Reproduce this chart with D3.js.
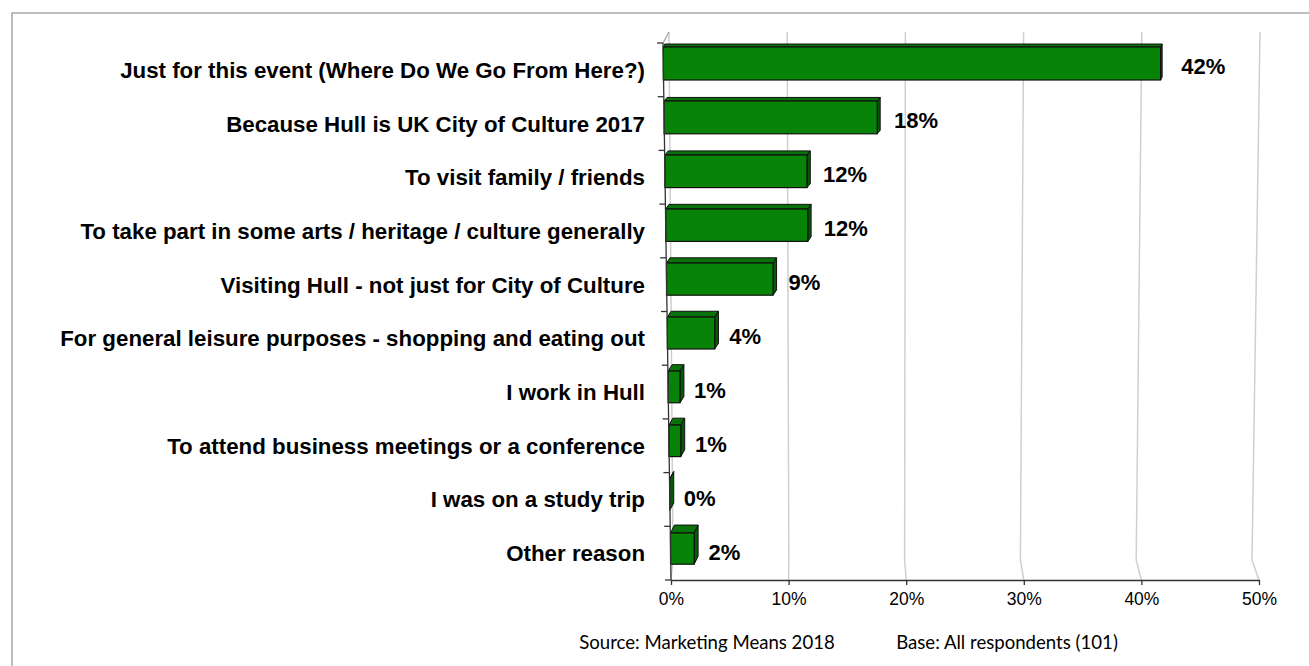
<!DOCTYPE html>
<html>
<head>
<meta charset="utf-8">
<script src="https://cdn.jsdelivr.net/npm/d3@7/dist/d3.min.js"></script>
<style>
html,body{margin:0;padding:0;background:#fff;}
svg{display:block;}
</style>
</head>
<body>
<svg id="chart" width="1309" height="666"></svg>
<script>
const categories = [
  "Just for this event (Where Do We Go From Here?)",
  "Because Hull is UK City of Culture 2017",
  "To visit family / friends",
  "To take part in some arts / heritage / culture generally",
  "Visiting Hull - not just for City of Culture",
  "For general leisure purposes - shopping and eating out",
  "I work in Hull",
  "To attend business meetings or a conference",
  "I was on a study trip",
  "Other reason"
];
const values = [42, 18, 12, 12, 9, 4, 1, 1, 0, 2];
const tickValues = [0, 10, 20, 30, 40, 50];
const sourceText = "Source: Marketing Means 2018";
const baseText = "Base: All respondents (101)";

const svg = d3.select("#chart");
const W = 1309, H = 666;
const FONT = "'Liberation Sans', Arial, sans-serif";

// frame
svg.append("rect").attr("x", 12).attr("y", 13).attr("width", W + 20).attr("height", H + 20)
  .attr("fill", "none").attr("stroke", "#a6a6a6").attr("stroke-width", 1.5);

const yTop = 43, yBot = 580;
const y = d3.scaleBand().domain(categories).range([yTop, yBot]).padding(0);
const axisX = d3.scaleLinear().domain([yTop, yBot]).range([663, 671]); // slanted value-zero line

// perspective scales for the gridlines
const xBackTop = d3.scaleLinear().domain([0, 50]).range([669, 1260]);
const xBackBot = d3.scaleLinear().domain([0, 50]).range([673, 1252]);
const xFront = d3.scaleLinear().domain([0, 50]).range([671, 1259]);
const xLen = d3.scaleLinear().domain([0, 50]).range([0, 592]);
const xLab = d3.scaleLinear().domain([0, 50]).range([0, 600]);

const gridTopY = 32, floorY = 560;

// gridlines
const grid = svg.append("g");
tickValues.forEach(v => {
  grid.append("path")
    .attr("d", d3.line()([[xBackTop(v), gridTopY], [xBackBot(v), floorY], [xFront(v), yBot]]))
    .attr("fill", "none").attr("stroke", "#cfcfcf").attr("stroke-width", 1.5);
});
grid.append("line").attr("x1", 663).attr("y1", yTop).attr("x2", xBackTop(0)).attr("y2", gridTopY)
  .attr("stroke", "#a0a0a0").attr("stroke-width", 1.2);

// bars
const bars = svg.append("g");
categories.forEach((c, i) => {
  const v = values[i];
  const top = y(c) + 4 + i * 0.3;
  const h = 33 - i * 0.2;
  const x0 = axisX(top + h / 2);
  const x1 = x0 + xLen(v);
  const dy = 3 + i * 0.55;
  const dx = 4 - (x1 - 671) / 500 * 2.5;
  bars.append("path")
    .attr("d", d3.line()([[x0, top], [x0 + dx, top - dy], [x1 + dx, top - dy], [x1, top]]) + "Z")
    .attr("fill", "#0a720a").attr("stroke", "#111").attr("stroke-width", 1).attr("stroke-linejoin", "round");
  bars.append("path")
    .attr("d", d3.line()([[x1, top], [x1 + dx, top - dy], [x1 + dx, top + h - dy], [x1, top + h]]) + "Z")
    .attr("fill", "#055a05").attr("stroke", "#111").attr("stroke-width", 1).attr("stroke-linejoin", "round");
  bars.append("rect").attr("x", x0).attr("y", top).attr("width", Math.max(0, x1 - x0)).attr("height", h)
    .attr("fill", "#078407").attr("stroke", "#111").attr("stroke-width", 1.2);
  svg.append("text").attr("x", x0 + xLab(v) + 14).attr("y", top + h / 2 + 3)
    .attr("dy", "0.36em")
    .attr("font-family", FONT).attr("font-weight", "bold")
    .attr("font-size", 22).attr("fill", "#000").text(v + "%");
});

// left axis (slanted)
const ax = svg.append("g");
ax.append("line").attr("x1", axisX(yTop)).attr("y1", yTop).attr("x2", axisX(yBot)).attr("y2", yBot)
  .attr("stroke", "#333").attr("stroke-width", 1.3);
const bounds = categories.map(c => y(c)).concat([yBot]);
bounds.forEach(b => {
  ax.append("line").attr("x1", axisX(b) - 6).attr("x2", axisX(b)).attr("y1", b).attr("y2", b)
    .attr("stroke", "#333").attr("stroke-width", 1.3);
});
categories.forEach(c => {
  ax.append("text").attr("x", 645).attr("y", y(c) + y.bandwidth() / 2).attr("dy", "0.36em")
    .attr("text-anchor", "end")
    .attr("font-family", FONT).attr("font-weight", "bold")
    .attr("font-size", 22.3).attr("fill", "#000").text(c);
});

// bottom axis
const bottom = svg.append("g").attr("transform", `translate(0,${yBot})`)
  .call(d3.axisBottom(xFront).tickValues(tickValues).tickFormat(d => d + "%").tickSize(5).tickSizeOuter(0));
bottom.select(".domain").attr("stroke", "#333").attr("stroke-width", 1.3);
bottom.selectAll(".tick line").attr("stroke", "#333").attr("stroke-width", 1.3);
bottom.selectAll(".tick text").attr("font-family", FONT)
  .attr("font-size", 17.5).attr("fill", "#000").attr("dy", "0.95em");

// footer
svg.append("text").attr("x", 707).attr("y", 649).attr("text-anchor", "middle")
  .attr("font-family", "Lato, 'Open Sans', sans-serif").attr("font-size", 18.6).attr("fill", "#000").text(sourceText);
svg.append("text").attr("x", 1007).attr("y", 649).attr("text-anchor", "middle")
  .attr("font-family", "Lato, 'Open Sans', sans-serif").attr("font-size", 18.6).attr("fill", "#000").text(baseText);
</script>
</body>
</html>
